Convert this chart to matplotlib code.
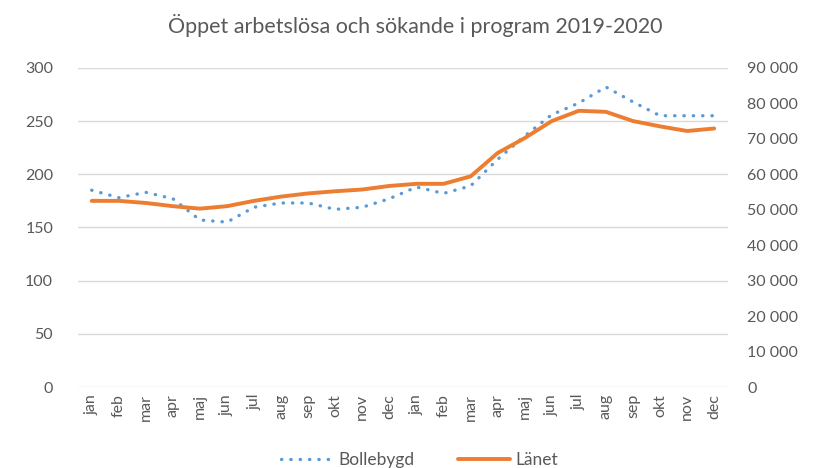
import matplotlib
matplotlib.use("Agg")
import matplotlib.pyplot as plt
from matplotlib.ticker import FuncFormatter

months = ["jan", "feb", "mar", "apr", "maj", "jun", "jul", "aug", "sep", "okt", "nov", "dec",
          "jan", "feb", "mar", "apr", "maj", "jun", "jul", "aug", "sep", "okt", "nov", "dec"]
bollebygd = [185, 178, 183, 177, 157, 155, 169, 173, 173, 167, 169, 177,
             188, 182, 189, 214, 236, 256, 267, 282, 268, 255, 255, 255]
lanet = [52500, 52500, 51900, 51000, 50300, 51000, 52500, 53700, 54600, 55200, 55700, 56700,
         57300, 57300, 59400, 66000, 70200, 75000, 77900, 77600, 75000, 73500, 72200, 72900]
left_ticks = [0, 50, 100, 150, 200, 250, 300]
right_ticks = [0, 10000, 20000, 30000, 40000, 50000, 60000, 70000, 80000, 90000]

plt.rcParams['font.family'] = ['Lato', 'DejaVu Sans']
txt = "#595959"

fig = plt.figure(figsize=(8.14, 4.68), dpi=100)
ax = fig.add_axes([0.096, 0.173, 0.798, 0.682])
x = list(range(len(months)))
l1, = ax.plot(x, bollebygd, color="#5B9BD5", linewidth=2.4, linestyle=(0, (0.1, 2.7)),
              dash_capstyle="round", label="Bollebygd")
ax.set_ylim(0, 300)
ax.set_yticks(left_ticks)
ax.set_xlim(-0.5, len(months) - 0.5)
ax.set_xticks(x)
ax.set_xticklabels(months, rotation=90, color=txt, fontsize=11.5)
ax.tick_params(axis="y", labelsize=11.5, colors=txt, length=0, pad=18)
ax.tick_params(axis="x", length=0, pad=5)
ax.grid(axis="y", color="#D9D9D9", linewidth=1)
ax.set_axisbelow(True)
for s in ax.spines.values():
    s.set_visible(False)

ax2 = ax.twinx()
l2, = ax2.plot(x, lanet, color="#ED7D31", linewidth=2.8, solid_capstyle="round", label="Länet")
ax2.set_ylim(0, 90000)
ax2.set_yticks(right_ticks)
ax2.yaxis.set_major_formatter(FuncFormatter(lambda v, p: f"{int(v):,}".replace(",", " ")))
ax2.tick_params(axis="y", labelsize=11.5, colors=txt, length=0, pad=14)
for s in ax2.spines.values():
    s.set_visible(False)

fig.suptitle("Öppet arbetslösa och sökande i program 2019-2020", x=0.51, y=0.97,
             fontsize=15.5, color=txt)
fig.legend([l1, l2], ["Bollebygd", "Länet"], loc="center", bbox_to_anchor=(0.515, 0.017),
           ncol=2, frameon=False, fontsize=12.5, labelcolor=txt, handlelength=3.0,
           columnspacing=2.5, handletextpad=0.3)

fig.savefig("out.png", dpi=100)
